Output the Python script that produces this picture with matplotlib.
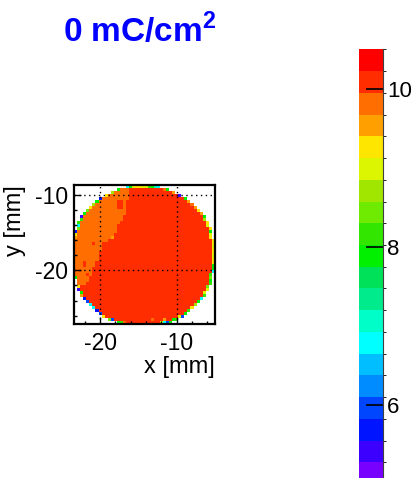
import numpy as np
import matplotlib
matplotlib.use("Agg")
import matplotlib.pyplot as plt
from matplotlib.colors import ListedColormap, BoundaryNorm
from matplotlib.ticker import MultipleLocator

plt.rcParams["font.family"] = ["Liberation Sans", "DejaVu Sans"]
plt.rcParams["mathtext.fontset"] = "custom"
plt.rcParams["mathtext.rm"] = "Liberation Sans"
plt.rcParams["mathtext.bf"] = "Liberation Sans:bold"
plt.rcParams["axes.unicode_minus"] = False

# histogram range (46 x 46 bins of 0.4 mm) and colour scale
x_range = (-23.4, -5.0)
y_range = (-27.1, -8.7)
z_range = (5.0, 10.5)
x_ticks = [-20, -10]
y_ticks = [-20, -10]
z_ticks = [6, 8, 10]
title = r"0 mC/cm$^\mathbf{2}$"

# 20 contour colours, lowest first
palette = ["#7800ff", "#3c00ff", "#0014ff", "#0046ff", "#008cff",
           "#00beff", "#00ffff", "#00ffc8", "#00eb8c", "#00e15a",
           "#00f000", "#32e600", "#6eeb00", "#a0e600", "#dcf500",
           "#ffe600", "#ffa000", "#ff6e00", "#ff2d00", "#ff0000"]

# one character per bin: index into level_codes, '.' = empty; top row first
level_codes = "0123456789ABCDEFGHIJ"
cells = [
    ".................6AEFFEEBA76..................",
    "..............AHHHIIIIIIIIIIIHA...............",
    "............DHHHHHIIIIIIIIIIIIIIG.............",
    "..........FHHHHHHHIIIIIIIIIIIIIIII1...........",
    "........2HHHHHHHHHIIIIIIIIIIIIIIIIIIA.........",
    ".......AHHHHHHIIHIIIIIIIIIIIIIIIIIIIIG........",
    "......DHHHHHHHIIHIIIIIIIIIIIIIIIIIIIIIH.......",
    ".....FHHHHHHHHIIHIIIIIIIIIIIIIIIIIIIIIIG......",
    "....CHHHHHHHHHHHHIIIIIIIIIIIIIIIIIIIIIIIF.....",
    "...AHHHHHHHHHHHHHIIIIIIIIIIIIIIIIIIIIIIIIG....",
    "..1HHHHHHHHHHHHHIIIIIIIIIIIIIIIIIIIIIIIIIIA...",
    "..BHHHHHHHHHHHHHIIIIIIIIIIIIIIIIIIIIIIIIIID...",
    ".BHHHHHHHHHHHHHIIIIIIIIIIIIIIIIIIIIIIIIIIIIF..",
    ".6HHHHHHHHHHHHIIIIIIIIIIIIIIIIIIIIIIIIIIIIIE..",
    ".CHHHHHHHHHHHHIIIIIIIIIIIIIIIIIIIIIIIIIIIIIIF.",
    "2HHHHHHHHHHHHHIIIIIIIIIIIIIIIIIIIIIIIIIIIIIIA.",
    "FHHHHHHHHHHHHIIIIIIIIIIIIIIIIIIIIIIIIIIIIIIIE.",
    "GHHHHHHHHHHHGIIIIIIIIIIIIIIIIIIIIIIIIIIIIIIIF.",
    "HHHHHHHHHHHIIIIIIIIIIIIIIIIIIIIIIIIIIIIIIIIIIF",
    "HHHHHHIHHIIIIIIIIIIIIIIIIIIIIIIIIIIIIIIIIIIIIF",
    "HHHHHHHHHIIIIIIIIIIIIIIIIIIIIIIIIIIIIIIIIIIIIE",
    "HHHHHHHHHIIIIIIIIIIIIIIIIIIIIIIIIIIIIIIIIIIIIF",
    "HHHHHHHHIIIIIIIIIIIIIIIIIIIIIIIIIIIIIIIIIIIIIF",
    "HHHHHHHHIIIIIIIIIIIIIIIIIIIIIIIIIIIIIIIIIIIIIE",
    "HHHHHHHHIIIIIIIIIIIIIIIIIIIIIIIIIIIIIIIIIIIIIF",
    "HHHIHHHIIIIIIIIIIIIIIIIIIIIIIIIIIIIIIIIIIIIIIF",
    "HHHIHHHIIIIIIIIIIIIIIIIIIIIIIIIIIIIIIIIIIIIIIA",
    "HHHHHHIIIIIIIIIIIIIIIIIIIIIIIIIIIIIIIIIIIIIIIA",
    "HHHHHHIIIIIIIIIIIIIIIIIIIIIIIIIIIIIIIIIIIIIII6",
    "HHHHIHIIIIIIIIIIIIIIIIIIIIIIIIIIIIIIIIIIIIIIB.",
    "AHHHHIIIIIIIIIIIIIIIIIIIIIIIIIIIIIIIIIIIIIIIC.",
    ".HHHHIIIIIIIIIIIIIIIIIIIIIIIIIIIIIIIIIIIIIIIA.",
    ".HHHIIIIIIIIIIIIIIIIIIIIIIIIIIIIIIIIIIIIIIIIB.",
    ".FIIIIIIIIIIIIIIIIIIIIIIIIIIIIIIIIIIIIIIIIIC..",
    ".1IIIIIIIIIIIIIIIIIIIIIIIIIIIIIIIIIIIIIIIIIE..",
    "..AIIIIIIIIIIIIIIIIIIIIIIIIIIIIIIIIIIIIIIIE...",
    "..GIIIIIIIIIIIIIIIIIIIIIIIIIIIIIIIIIIIIIIIB...",
    "...2IIIIIIIIIIIIIIIIIIIIIIIIIIIIIIIIIIIII6....",
    "....3IIIIIIIIIIIIIIIIIIIIIIIIIIIIIIIIIIIA.....",
    ".....6IIIIIIIIIIIIIIIIIIIIIIIIIIIIIIIIID......",
    "......6IIIIIIIIIIIIIIIIIIIIIIIIIIIIIIIF.......",
    ".......2IIIIIIIIIIIIIIIIIIIIIIIIIIIIIB........",
    "........3IIIIIIIIIIIIIIIIIIIIIIIIIIIA.........",
    ".........FIIIIIIIIIIIIIIIIIIIIIIIIE3..........",
    "...........C3IIIIIIIIIIIIHIIIGIIAB............",
    "..............ABHIIIIIIIIIIIE63A..............",
]

bad = [(i, len(r)) for i, r in enumerate(cells) if len(r) != len(cells[0])]
if bad:
    raise ValueError("ragged rows: %s" % bad)

n_levels = len(palette)
step = (z_range[1] - z_range[0]) / n_levels
z = np.full((len(cells), len(cells[0])), np.nan)
for i, row in enumerate(cells):
    for j, ch in enumerate(row):
        if ch != ".":
            z[i, j] = z_range[0] + (level_codes.index(ch) + 0.5) * step
z = np.ma.masked_invalid(z)

x_edges = np.linspace(x_range[0], x_range[1], z.shape[1] + 1)
y_edges = np.linspace(y_range[1], y_range[0], z.shape[0] + 1)  # top row first

cmap = ListedColormap(palette)
norm = BoundaryNorm(np.linspace(z_range[0], z_range[1], n_levels + 1), n_levels)

W, H = 416, 478
fig = plt.figure(figsize=(W / 100, H / 100), dpi=100)

ax = fig.add_axes([74 / W, 1 - 324 / H, 141 / W, 139 / H])
mesh = ax.pcolormesh(x_edges, y_edges, z, cmap=cmap, norm=norm)
ax.set_xlim(x_range)
ax.set_ylim(y_range)
ax.set_xticks(x_ticks)
ax.set_yticks(y_ticks)
ax.xaxis.set_minor_locator(MultipleLocator(2))
ax.yaxis.set_minor_locator(MultipleLocator(2))
ax.tick_params(which="both", direction="in", top=False, right=False, width=1)
ax.tick_params(which="major", length=5)
ax.tick_params(which="minor", length=2.5)
ax.tick_params(axis="x", labelsize=16.5, pad=6)
ax.tick_params(axis="y", labelsize=16.5, pad=4)
ax.grid(True, which="major", color="black", linestyle=(0, (1, 2.5)), linewidth=1)
for s in ax.spines.values():
    s.set_linewidth(1.6)

cax = fig.add_axes([358.5 / W, 1 - 484.2 / H, 24.5 / W, 434.9 / H])
cb = fig.colorbar(mesh, cax=cax, ticks=z_ticks)
cb.outline.set_visible(False)
cax.tick_params(direction="in", length=12, width=1.2, labelsize=16, pad=3)
cax.axvline(1, color="0.25", linewidth=0.8, clip_on=False)

fig.text(63 / W, 1 - 42 / H, title, color="#0000ff", fontsize=24,
         fontweight="bold", ha="left", va="baseline")
fig.text(215 / W, 1 - 367 / H, "x [mm]", fontsize=17, ha="right", va="center")
fig.text(15.5 / W, 1 - 185 / H, "y [mm]", fontsize=17, rotation=90,
         ha="center", va="top")

fig.savefig("out.png", dpi=100)
